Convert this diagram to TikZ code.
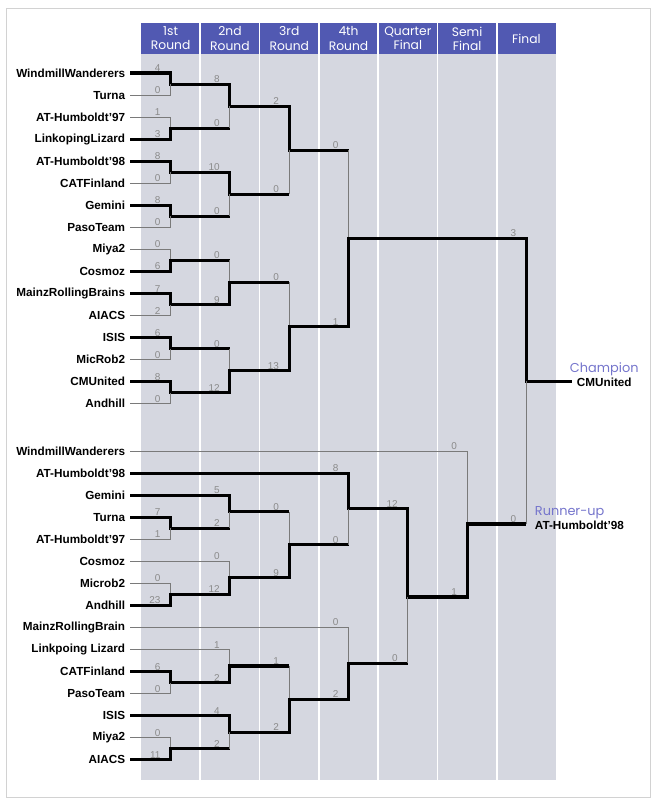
\documentclass[tikz,border=0pt]{standalone}
\usepackage{fontspec}
\setmainfont{Liberation Sans}
\newfontfamily\headfont{Poppins}
\usetikzlibrary{positioning}
\definecolor{headblue}{HTML}{5159B2}
\definecolor{panelgray}{HTML}{D5D7E0}
\definecolor{scoregray}{HTML}{8A8A8A}
\definecolor{medalblue}{HTML}{7575CC}
\definecolor{thinline}{HTML}{7A7A7A}

\begin{document}
\begin{tikzpicture}[x=0.03cm,y=-0.03cm,
  team/.style={anchor=east,inner xsep=4pt,inner ysep=1pt,font=\bfseries\fontsize{10}{11}\selectfont},
  score/.style={anchor=south east,inner sep=0.5pt,xshift=-8pt,yshift=0.5pt,text=scoregray,font=\fontsize{8.5}{9}\selectfont},
  head/.style={align=center,text=white,font=\headfont\fontsize{10.5}{12}\selectfont},
  medal/.style={inner xsep=4pt,inner ysep=1pt,text=medalblue,font=\headfont\fontsize{11}{12}\selectfont},
  win/.style={line width=2.6pt},
  lose/.style={line width=0.7pt,thinline}]
\useasboundingbox (0,0) rectangle (652,801);
\draw[gray!35,line width=0.8pt] (6,8) rectangle (650,797);
% panel and round headings
\fill[panelgray] (141,54) rectangle (556,780);
\fill[headblue] (141,23) rectangle (556,54);
\foreach \k in {1,...,6}
  \draw[white,line width=1.5pt] ({141+59.3*\k},23) -- ({141+59.3*\k},780);
\foreach \h [count=\k from 0] in {1st\\Round,2nd\\Round,3rd\\Round,4th\\Round,Quarter\\Final,Semi\\Final,Final}
  \node[head] (h\k) at ({141+59.3*(\k+0.5)},38.5) {\h};

% teams
\foreach \n [count=\i from 0] in {WindmillWanderers,Turna,AT-Humboldt'97,LinkopingLizard,AT-Humboldt'98,CATFinland,Gemini,PasoTeam,Miya2,Cosmoz,MainzRollingBrains,AIACS,ISIS,MicRob2,CMUnited,Andhill}
  \node[team] (u\i) at (130,{73+22.05*\i}) {\n};
\foreach \n [count=\i from 0] in {WindmillWanderers,AT-Humboldt'98,Gemini,Turna,AT-Humboldt'97,Cosmoz,Microb2,Andhill,MainzRollingBrain,Linkpoing Lizard,CATFinland,PasoTeam,ISIS,Miya2,AIACS}
  \node[team] (l\i) at (130,{451+22.05*\i}) {\n};

% match points, upper half
\foreach \k in {0,...,7} \coordinate (ua\k) at (170.6,{73+22.05*(2*\k+0.5)});
\foreach \k in {0,...,3} \coordinate (ub\k) at (229.9,{73+22.05*(4*\k+1.5)});
\foreach \k in {0,1} \coordinate (uc\k) at (289.2,{73+22.05*(8*\k+3.5)});
\coordinate (ud0) at (348.6,{73+22.05*7.5});
% match points, lower half
\foreach \k/\t in {0/3.5,1/6.5,2/10.5,3/13.5} \coordinate (la\k) at (170.6,{451+22.05*\t});
\foreach \k/\t in {0/2.75,1/5.75,2/9.75,3/12.75} \coordinate (lb\k) at (229.9,{451+22.05*\t});
\foreach \k/\t in {0/4.25,1/11.25} \coordinate (lc\k) at (289.2,{451+22.05*\t});
\foreach \k/\t in {0/2.625,1/9.625} \coordinate (ld\k) at (348.6,{451+22.05*\t});
\coordinate (lq) at (407.9,597);
\coordinate (ls) at (467.2,524);
\coordinate (fin) at (526.4,381.2);

\node[team,anchor=west] (champ) at (572,382) {CMUnited};
\node[medal,above=-1pt of champ] (champlbl) {Champion};
\node[team,anchor=west] (runup) at (530,525) {AT-Humboldt'98};
\node[medal,above=-1pt of runup.north west,anchor=south west] (runlbl) {Runner-up};

% upper half
\draw[win] (u0.east) -| (ua0) -| (ub0) -| (uc0) -- (uc0 -| ud0);
\draw[lose] (uc0 -| ud0) -- (ud0);
\draw[lose] (u1.east) -| (ua0);
\draw[lose] (u2.east) -| (ua1);
\draw[win] (u3.east) -| (ua1) -- (ua1 -| ub0);
\draw[lose] (ua1 -| ub0) -- (ub0);
\draw[win] (u4.east) -| (ua2) -| (ub1) -- (ub1 -| uc0);
\draw[lose] (ub1 -| uc0) -- (uc0);
\draw[lose] (u5.east) -| (ua2);
\draw[win] (u6.east) -| (ua3) -- (ua3 -| ub1);
\draw[lose] (ua3 -| ub1) -- (ub1);
\draw[lose] (u7.east) -| (ua3);
\draw[lose] (u8.east) -| (ua4);
\draw[win] (u9.east) -| (ua4) -- (ua4 -| ub2);
\draw[lose] (ua4 -| ub2) -- (ub2);
\draw[win] (u10.east) -| (ua5) -| (ub2) -- (ub2 -| uc1);
\draw[lose] (ub2 -| uc1) -- (uc1);
\draw[lose] (u11.east) -| (ua5);
\draw[win] (u12.east) -| (ua6) -- (ua6 -| ub3);
\draw[lose] (ua6 -| ub3) -- (ub3);
\draw[lose] (u13.east) -| (ua6);
\draw[win] (u14.east) -| (ua7) -| (ub3) -| (uc1) -| (ud0) -| (fin) -- (champ.west |- fin);
\draw[lose] (u15.east) -| (ua7);

% lower half
\draw[lose] (l0.east) -| (ls);
\draw[win] (l1.east) -| (ld0) -| (lq) -| (ls) -- (ls -| fin);
\draw[lose] (ls -| fin) -- (fin);
\draw[win] (l2.east) -| (lb0) -- (lb0 -| lc0);
\draw[lose] (lb0 -| lc0) -- (lc0);
\draw[win] (l3.east) -| (la0) -- (la0 -| lb0);
\draw[lose] (la0 -| lb0) -- (lb0);
\draw[lose] (l4.east) -| (la0);
\draw[lose] (l5.east) -| (lb1);
\draw[lose] (l6.east) -| (la1);
\draw[win] (l7.east) -| (la1) -| (lb1) -| (lc0) -- (lc0 -| ld0);
\draw[lose] (lc0 -| ld0) -- (ld0);
\draw[lose] (l8.east) -| (ld1);
\draw[lose] (l9.east) -| (lb2);
\draw[win] (l10.east) -| (la2) -| (lb2) -- (lb2 -| lc1);
\draw[lose] (lb2 -| lc1) -- (lc1);
\draw[lose] (l11.east) -| (la2);
\draw[win] (l12.east) -| (lb3) -| (lc1) -| (ld1) -- (ld1 -| lq);
\draw[lose] (ld1 -| lq) -- (lq);
\draw[lose] (l13.east) -| (la3);
\draw[win] (l14.east) -| (la3) -- (la3 -| lb3);
\draw[lose] (la3 -| lb3) -- (lb3);

% scores
\foreach \m/\t/\s in {ua0/u0/4,ua0/u1/0,ua1/u2/1,ua1/u3/3,ua2/u4/8,ua2/u5/0,ua3/u6/8,ua3/u7/0,
    ua4/u8/0,ua4/u9/6,ua5/u10/7,ua5/u11/2,ua6/u12/6,ua6/u13/0,ua7/u14/8,ua7/u15/0,
    ub0/ua0/8,ub0/ua1/0,ub1/ua2/10,ub1/ua3/0,ub2/ua4/0,ub2/ua5/9,ub3/ua6/0,ub3/ua7/12,
    uc0/ub0/2,uc0/ub1/0,uc1/ub2/0,uc1/ub3/13,ud0/uc0/0,ud0/uc1/1,fin/ud0/3,fin/ls/0,
    la0/l3/7,la0/l4/1,la1/l6/0,la1/l7/23,la2/l10/6,la2/l11/0,la3/l13/0,la3/l14/11,
    lb0/l2/5,lb0/la0/2,lb1/l5/0,lb1/la1/12,lb2/l9/1,lb2/la2/2,lb3/l12/4,lb3/la3/2,
    lc0/lb0/0,lc0/lb1/9,lc1/lb2/1,lc1/lb3/2,ld0/l1/8,ld0/lc0/0,ld1/l8/0,ld1/lc1/2,
    lq/ld0/12,lq/ld1/0,ls/l0/0,ls/lq/1}
  \node[score] at (\m |- \t) {\s};
\end{tikzpicture}
\end{document}
